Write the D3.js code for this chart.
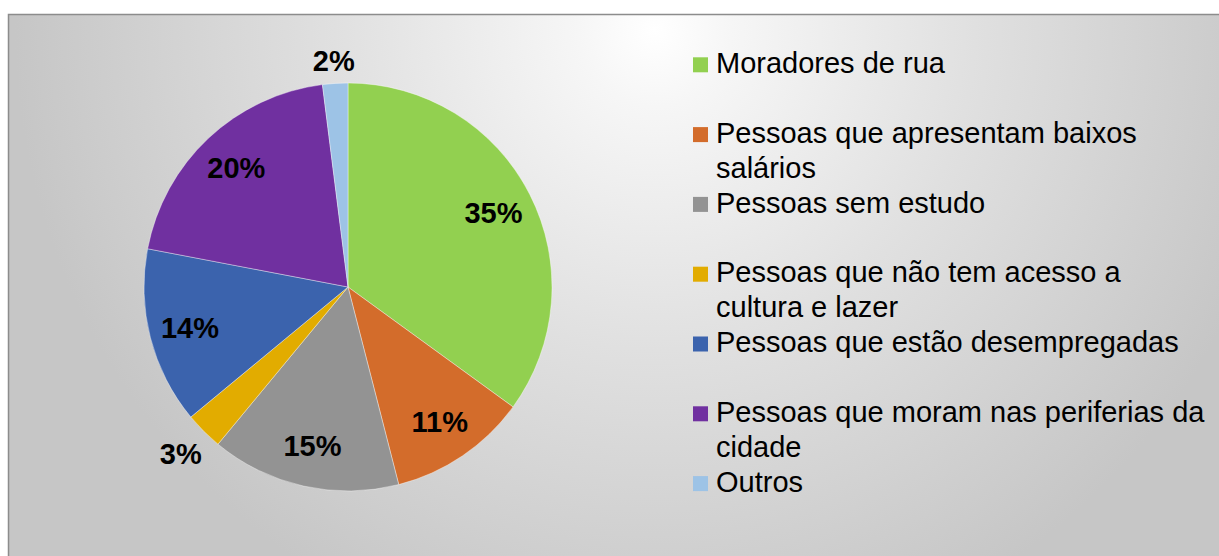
<!DOCTYPE html>
<html>
<head>
<meta charset="utf-8">
<script src="https://cdn.jsdelivr.net/npm/d3@7"></script>
<style>
html,body{margin:0;padding:0;background:#fff;}
svg{display:block;font-family:Arial,"Liberation Sans",sans-serif;}
</style>
</head>
<body>
<svg id="chart" width="1219" height="556"></svg>
<script>
const categories = [
  "Moradores de rua",
  "Pessoas que apresentam baixos salários",
  "Pessoas sem estudo",
  "Pessoas que não tem acesso a cultura e lazer",
  "Pessoas que estão desempregadas",
  "Pessoas que moram nas periferias da cidade",
  "Outros"
];
const values = [35, 11, 15, 3, 14, 20, 2];
const labels = ["35%", "11%", "15%", "3%", "14%", "20%", "2%"];
const colors = ["#92d050", "#d36c2b", "#939393", "#e2ac00", "#3b63ad", "#7030a0", "#9dc3e6"];

const W = 1219, H = 556;
const svg = d3.select("#chart");
const defs = svg.append("defs");
const grad = defs.append("radialGradient")
  .attr("id", "bg").attr("gradientUnits", "userSpaceOnUse")
  .attr("cx", 655).attr("cy", 30).attr("r", 640)
  .attr("fx", 655).attr("fy", 30);
grad.append("stop").attr("offset", 0).attr("stop-color", "#ffffff");
grad.append("stop").attr("offset", 0.12).attr("stop-color", "#f6f6f6");
grad.append("stop").attr("offset", 0.5).attr("stop-color", "#e0e0e0");
grad.append("stop").attr("offset", 1).attr("stop-color", "#c6c6c6");

svg.append("rect").attr("x", 8.5).attr("y", 14.5).attr("width", W).attr("height", H)
  .attr("fill", "url(#bg)").attr("stroke", "#8c8c8c").attr("stroke-width", 1.5);

const cx = 348, cy = 287, R = 204;
const g = svg.append("g").attr("transform", `translate(${cx},${cy})`);
const pie = d3.pie().sort(null).value(d => d)(values);
const arc = d3.arc().innerRadius(0).outerRadius(R);

g.selectAll("path.slice").data(pie).join("path")
  .attr("class", "slice")
  .attr("d", arc)
  .attr("fill", (d, i) => colors[i])
  .attr("stroke", "rgba(255,255,255,0.55)")
  .attr("stroke-width", 0.7);

const fs = 29;
g.selectAll("text.lbl").data(pie).join("text")
  .attr("class", "lbl")
  .attr("font-size", fs).attr("font-weight", "bold").attr("fill", "#000")
  .attr("text-anchor", "middle").attr("dominant-baseline", "central")
  .text((d, i) => labels[i])
  .each(function(d) {
    const a = (d.startAngle + d.endAngle) / 2;
    const s = Math.sin(a), c = -Math.cos(a);
    let r;
    if (d.value < 5) {
      const hw = this.getComputedTextLength() / 2, hh = 11;
      r = R + 10 + Math.abs(s) * hw + Math.abs(c) * hh;
    } else {
      r = R * 0.8;
    }
    d3.select(this).attr("x", s * r).attr("y", c * r);
  });

// legend
const lx = 693, tx = 716, y0 = 73, step = 69.8, lh = 35, maxW = 495;
const leg = svg.append("g").attr("font-size", fs).attr("fill", "#000");
categories.forEach((name, i) => {
  const by = y0 + i * step;
  leg.append("rect").attr("x", lx).attr("y", by - 15.7).attr("width", 15).attr("height", 15)
    .attr("fill", colors[i]);
  const t = leg.append("text").attr("x", tx).attr("y", by);
  const words = name.split(" ");
  let line = [], ln = 0;
  let ts = t.append("tspan").attr("x", tx).attr("y", by);
  words.forEach(w => {
    line.push(w);
    ts.text(line.join(" "));
    if (ts.node().getComputedTextLength() > maxW && line.length > 1) {
      line.pop();
      ts.text(line.join(" "));
      line = [w];
      ln++;
      ts = t.append("tspan").attr("x", tx).attr("y", by + ln * lh).text(w);
    }
  });
});
</script>
</body>
</html>
